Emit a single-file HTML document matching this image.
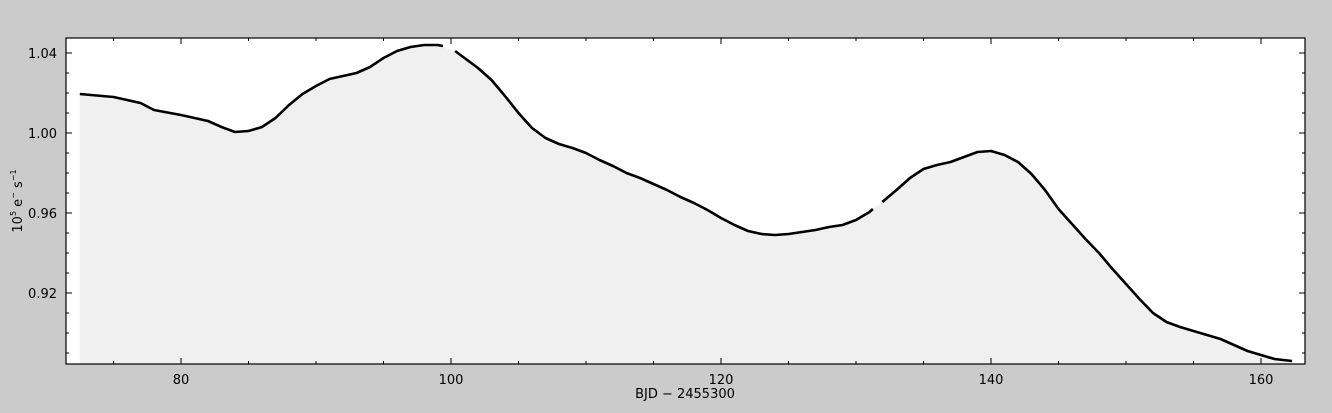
<!DOCTYPE html>
<html><head><meta charset="utf-8"><style>
body{margin:0;background:#cbcbcb;}
svg{display:block;font-family:"DejaVu Sans","Liberation Sans",sans-serif;}
</style></head><body>
<svg id="c" width="1332" height="413">
<rect x="0" y="0" width="1332" height="413" fill="#cbcbcb"/>
<rect x="66" y="38" width="1239" height="326" fill="#fff"/>
<g id="marks"></g>
<g id="axes"></g>
<rect x="66" y="38" width="1239" height="326" fill="none" stroke="#000" stroke-width="1.2"/>
<text x="685" y="398" font-size="13" text-anchor="middle">BJD − 2455300</text>
<text transform="translate(22,201) rotate(-90)" font-size="13" text-anchor="middle">10<tspan font-size="8" dy="-6">5</tspan><tspan dy="6"> e</tspan><tspan font-size="8" dy="-6">−</tspan><tspan dy="6"> s</tspan><tspan font-size="8" dy="-6">−1</tspan></text>
</svg>
<script>
const bjd=[72.5,75,77,78,80,82,83,84,85,86,87,88,89,90,91,92,93,94,95,96,97,98,99,99.4,99.7,100.3,101,102,103,104,105,106,107,108,109,110,111,112,113,114,115,116,117,118,119,120,121,122,123,124,125,126,127,128,129,130,131,131.25,131.6,131.95,133,134,135,136,137,138,139,140,141,142,143,144,145,146,147,148,149,150,151,152,153,154,155,156,157,158,159,160,161,162.3];
const flux=[1.0195,1.018,1.015,1.0115,1.009,1.006,1.003,1.0005,1.001,1.003,1.0075,1.014,1.0195,1.0235,1.027,1.0285,1.030,1.033,1.0375,1.041,1.043,1.044,1.044,1.0435,null,1.041,1.0375,1.0325,1.0265,1.0185,1.010,1.0025,0.9975,0.9945,0.9925,0.990,0.9865,0.9835,0.980,0.9775,0.9745,0.9715,0.968,0.965,0.9615,0.9575,0.954,0.951,0.9495,0.949,0.9495,0.9505,0.9515,0.953,0.954,0.9565,0.9605,0.962,null,0.9655,0.9715,0.9775,0.982,0.984,0.9855,0.988,0.9905,0.991,0.989,0.9855,0.9795,0.9715,0.962,0.9545,0.947,0.940,0.932,0.9245,0.917,0.910,0.9055,0.903,0.901,0.899,0.897,0.894,0.891,0.889,0.887,0.886];
const xTicks=[80,100,120,140,160];
const yTicks=[0.92,0.96,1.00,1.04];
const yTickLabels=["0.92","0.96","1.00","1.04"];
const X0=71.48,X1=163.26,Y0=0.8845,Y1=1.0475,L=66,R=1305,T=38,B=364;
const sx=v=>L+(v-X0)/(X1-X0)*(R-L);
const sy=v=>B-(v-Y0)/(Y1-Y0)*(B-T);
const NS="http://www.w3.org/2000/svg";
const marks=document.getElementById('marks'),axes=document.getElementById('axes');
function mk(tag,attrs,parent){const e=document.createElementNS(NS,tag);for(const k in attrs)e.setAttribute(k,attrs[k]);parent.appendChild(e);return e;}
const pts=[];
for(let i=0;i<bjd.length;i++){let f=flux[i];if(f===null){f=(flux[i-1]+flux[i+1])/2;}pts.push([sx(bjd[i]),sy(f)]);}
let d='M'+pts[0][0]+','+B+' '+pts.map(p=>'L'+p[0].toFixed(1)+','+p[1].toFixed(1)).join(' ')+' L'+pts[pts.length-1][0]+','+B+'Z';
const fill=mk('path',{d:d,fill:'#f0f0f0'},marks);


let seg=[];const segs=[];
for(let i=0;i<bjd.length;i++){if(flux[i]===null){segs.push(seg);seg=[];}else seg.push([sx(bjd[i]),sy(flux[i])]);}
segs.push(seg);
segs.forEach((s,k)=>{const p=mk('path',{d:'M'+s.map(q=>q[0].toFixed(1)+','+q[1].toFixed(1)).join(' L'),fill:'none',stroke:'#000','stroke-width':2.6,'stroke-linejoin':'round'},marks);

});
for(let v=75;v<=160;v+=5){const x=sx(v),len=(v%20===0)?6:3;
mk('line',{x1:x,x2:x,y1:B,y2:B-len,stroke:'#000'},axes);mk('line',{x1:x,x2:x,y1:T,y2:T+len,stroke:'#000'},axes);}
xTicks.forEach(v=>{const t=mk('text',{x:sx(v),y:B+20,'font-size':13,'text-anchor':'middle'},axes);t.textContent=v;

});
for(let k=89;k<=104;k++){const v=k/100,y=sy(v),len=(k%4===0)?6:3;
mk('line',{x1:L,x2:L+len,y1:y,y2:y,stroke:'#000'},axes);mk('line',{x1:R,x2:R-len,y1:y,y2:y,stroke:'#000'},axes);}
yTicks.forEach((v,i)=>{const t=mk('text',{x:L-9,y:sy(v)+5,'font-size':13,'text-anchor':'end'},axes);t.textContent=yTickLabels[i];

});
</script>
</body></html>
